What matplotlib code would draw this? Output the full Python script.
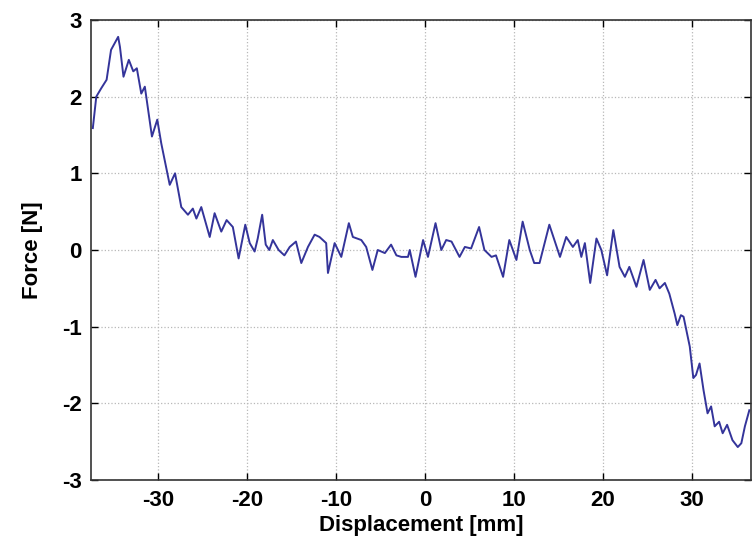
import matplotlib
matplotlib.use("Agg")
import matplotlib.pyplot as plt

# ----------------------------------------------------
# Measured force vs displacement
# ----------------------------------------------------

displacement = [
    -37.35, -36.96, -36.4, -35.8, -35.3, -34.5, -34.3, -33.9, -33.3, -32.8,
    -32.4, -31.9, -31.5, -30.7, -30.1, -29.65, -28.7, -28.1, -27.4, -26.65,
    -26.1, -25.7, -25.15, -24.2, -23.65, -22.9, -22.3, -21.6, -20.95, -20.2,
    -19.7, -19.15, -18.8, -18.3, -17.9, -17.5, -17.1, -16.45, -15.8, -15.2,
    -14.5, -13.9, -13.15, -12.4, -11.85, -11.1, -10.9, -10.15, -9.4, -8.55,
    -8.1, -7.15, -6.6, -5.9, -5.3, -4.5, -3.8, -3.2, -2.65, -1.9,
    -1.7, -1.05, -0.2, 0.35, 1.2, 1.85, 2.4, 3.0, 3.9, 4.5,
    5.2, 6.1, 6.7, 7.5, 8.0, 8.8, 9.5, 10.3, 11.0, 11.8,
    12.3, 12.9, 14.0, 15.2, 15.9, 16.65, 17.2, 17.6, 18.0, 18.6,
    19.3, 19.85, 20.5, 21.2, 21.9, 22.5, 23.0, 23.8, 24.6, 25.3,
    25.95, 26.4, 27.0, 27.5, 28.1, 28.4, 28.8, 29.1, 29.8, 30.2,
    30.5, 30.9, 31.35, 31.8, 32.2, 32.6, 33.1, 33.5, 34.0, 34.6,
    35.2, 35.6, 36.0, 36.5,
]

force = [
    1.59, 2.0, 2.11, 2.22, 2.61, 2.78, 2.65, 2.26, 2.48, 2.33,
    2.37, 2.04, 2.13, 1.48, 1.70, 1.39, 0.85, 1.0, 0.56, 0.46,
    0.54, 0.41, 0.56, 0.17, 0.48, 0.24, 0.39, 0.30, -0.11, 0.33,
    0.09, -0.02, 0.15, 0.46, 0.07, 0.0, 0.13, 0.0, -0.07, 0.04,
    0.11, -0.17, 0.04, 0.20, 0.17, 0.09, -0.30, 0.09, -0.09, 0.35,
    0.17, 0.13, 0.04, -0.26, 0.0, -0.04, 0.07, -0.07, -0.09, -0.09,
    0.0, -0.35, 0.13, -0.09, 0.35, 0.0, 0.13, 0.11, -0.09, 0.04,
    0.02, 0.30, 0.0, -0.09, -0.07, -0.35, 0.13, -0.13, 0.37, 0.0,
    -0.17, -0.17, 0.33, -0.09, 0.17, 0.04, 0.13, -0.09, 0.09, -0.43,
    0.15, 0.0, -0.33, 0.26, -0.22, -0.35, -0.22, -0.48, -0.13, -0.52,
    -0.39, -0.50, -0.43, -0.57, -0.83, -0.98, -0.85, -0.87, -1.26, -1.67,
    -1.63, -1.48, -1.83, -2.13, -2.04, -2.30, -2.24, -2.39, -2.28, -2.48,
    -2.57, -2.52, -2.30, -2.09,
]

x_ticks = [-30, -20, -10, 0, 10, 20, 30]
y_ticks = [-3, -2, -1, 0, 1, 2, 3]

# ----------------------------------------------------
# Plot
# ----------------------------------------------------

plt.rcParams["font.family"] = ["Liberation Sans", "DejaVu Sans"]
plt.rcParams["axes.unicode_minus"] = False

fig = plt.figure(figsize=(7.53, 5.52), dpi=100)
ax = fig.add_axes([0.1215, 0.1304, 0.876, 0.8334])

ax.plot(displacement, force, color="#34349a", linewidth=1.4)

ax.set_xlim(-37.5, 36.7)
ax.set_ylim(-3, 3)
ax.set_xticks(x_ticks)
ax.set_yticks(y_ticks)

ax.grid(True, linestyle=":", color="#b8b8b8", linewidth=0.9)
ax.tick_params(direction="in", length=5, width=1, top=True, right=True,
               labelsize=16, pad=7)
for label in ax.get_xticklabels() + ax.get_yticklabels():
    label.set_fontweight("bold")
for spine in ax.spines.values():
    spine.set_color("#333333")
    spine.set_linewidth(1.2)

ax.set_xlabel("Displacement [mm]", fontsize=16, fontweight="bold", labelpad=3)
ax.set_ylabel("Force [N]", fontsize=16, fontweight="bold", labelpad=14)

fig.savefig("out.png", dpi=100)
